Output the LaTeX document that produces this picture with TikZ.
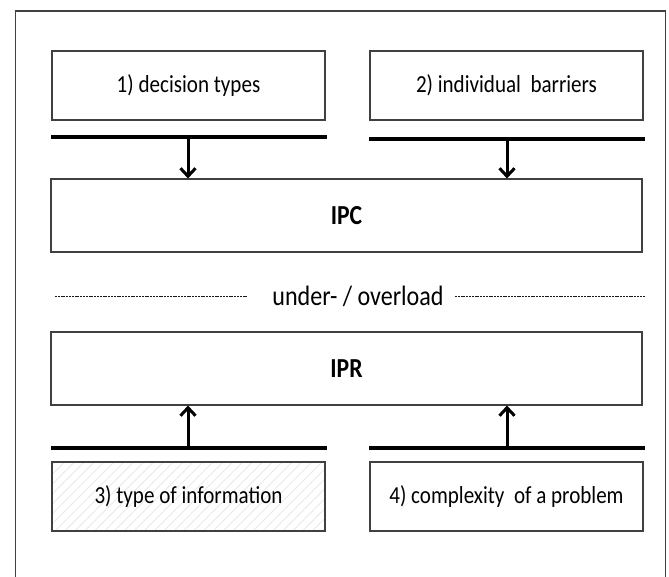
\documentclass[tikz,border=0pt]{standalone}
\usepackage{fontspec}
\setmainfont{Carlito}[FakeStretch=0.86]
\usetikzlibrary{arrows.meta, patterns.meta}
\tikzset{
  frame/.style={draw=black!75, line width=1.3pt},
  box/.style={draw=black!75, fill=white, line width=1.1pt, align=center,
              font=\fontsize{24.5}{28}\selectfont, inner sep=0pt},
  factor/.style={box, minimum width=273pt, minimum height=69pt},
  level/.style={box, minimum width=591pt, minimum height=73pt,
                font=\fontsize{27.5}{31}\selectfont\bfseries},
  hatched/.style={pattern={Lines[angle=45, distance=7pt, line width=0.9pt]},
                  pattern color=black!9},
  bar/.style={line width=4pt},
  arr/.style={-{Straight Barb[length=8pt, width=15pt, line width=3pt]}, line width=3pt},
  sep/.style={line width=1pt, dash pattern=on 2pt off 0.8pt, black!90},
  lbl/.style={font=\fontsize{28}{32}\selectfont, inner sep=2pt},
}

\begin{document}
\begin{tikzpicture}[x=1pt, y=1pt]
\useasboundingbox (0,0) rectangle (669,576);

% outer frame, open at the foot
\draw[frame] (15.5,-5) |- (665.5,565) -- (665.5,-5);

% the two factors on top
\node[factor] (decision) at (188.5,490.5) {1) decision types};
\node[factor] (barrier) at (506.5,490.5) {2) individual\ \ barriers};
\draw[bar] (51,439) -- (327,439);
\draw[bar] (369,437) -- (645,437);
\coordinate (top1) at (188,439);
\coordinate (top2) at (507,437);

% capacity and requirement
\node[level] (ipc) at (346.5,360.5) {IPC};
\node[level] (ipr) at (346.5,207.5) {IPR};
\draw[arr] (top1) -- (top1 |- ipc.north);
\draw[arr] (top2) -- (top2 |- ipc.north);

% the balance between them
\node[lbl] (load) at (358,280) {under- / overload};
\coordinate (sepl) at (55,279);
\coordinate (sepla) at (247,279);
\coordinate (sepra) at (455,279);
\coordinate (sepr) at (645,279);
\draw[sep] (sepl) -- (sepla);
\draw[sep] (sepra) -- (sepr);

% the two factors below
\node[factor, hatched] (info) at (188.5,79.5) {3) type of information};
\node[factor] (problem) at (506.5,79.5) {4) complexity\ \ of a problem};
\draw[bar] (51,128) -- (327,128);
\draw[bar] (369,128) -- (645,128);
\coordinate (bot1) at (188,128);
\coordinate (bot2) at (507,128);
\draw[arr] (bot1) -- (bot1 |- ipr.south);
\draw[arr] (bot2) -- (bot2 |- ipr.south);
\end{tikzpicture}
\end{document}
